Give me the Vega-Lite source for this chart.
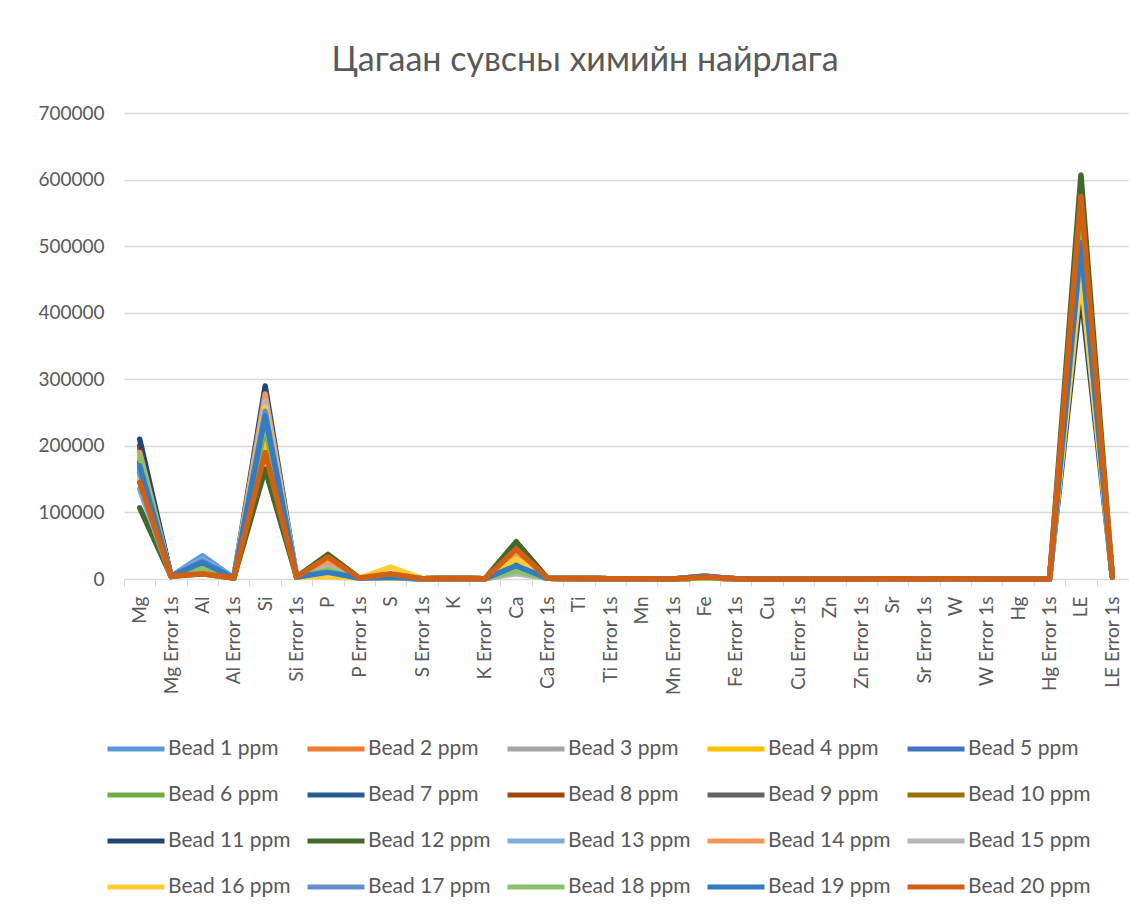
{
"$schema": "https://vega.github.io/schema/vega-lite/v6.json",
"width": 1004, "height": 466,
"autosize": {"type": "none"},
"padding": {"left": 124, "top": 113, "right": 16, "bottom": 331},
"background": "white",
"title": {"text": "Цагаан сувсны химийн найрлага", "font": "Lato", "fontSize": 34, "fontWeight": "normal", "color": "#595959", "anchor": "middle", "offset": 26, "dx": -41},
"config": {"view": {"stroke": null}, "font": "Lato"},
"data": {"values": [
{"s":"Bead 1 ppm","c":"Mg","v":165000},{"s":"Bead 1 ppm","c":"Mg Error 1s","v":4000},{"s":"Bead 1 ppm","c":"Al","v":35000},{"s":"Bead 1 ppm","c":"Al Error 1s","v":1500},{"s":"Bead 1 ppm","c":"Si","v":240000},{"s":"Bead 1 ppm","c":"Si Error 1s","v":3000},{"s":"Bead 1 ppm","c":"P","v":12000},{"s":"Bead 1 ppm","c":"P Error 1s","v":1500},{"s":"Bead 1 ppm","c":"S","v":3000},{"s":"Bead 1 ppm","c":"S Error 1s","v":500},{"s":"Bead 1 ppm","c":"K","v":800},{"s":"Bead 1 ppm","c":"K Error 1s","v":300},{"s":"Bead 1 ppm","c":"Ca","v":22000},{"s":"Bead 1 ppm","c":"Ca Error 1s","v":1000},{"s":"Bead 1 ppm","c":"Ti","v":600},{"s":"Bead 1 ppm","c":"Ti Error 1s","v":200},{"s":"Bead 1 ppm","c":"Mn","v":400},{"s":"Bead 1 ppm","c":"Mn Error 1s","v":150},{"s":"Bead 1 ppm","c":"Fe","v":3000},{"s":"Bead 1 ppm","c":"Fe Error 1s","v":200},{"s":"Bead 1 ppm","c":"Cu","v":150},{"s":"Bead 1 ppm","c":"Cu Error 1s","v":50},{"s":"Bead 1 ppm","c":"Zn","v":100},{"s":"Bead 1 ppm","c":"Zn Error 1s","v":40},{"s":"Bead 1 ppm","c":"Sr","v":200},{"s":"Bead 1 ppm","c":"Sr Error 1s","v":40},{"s":"Bead 1 ppm","c":"W","v":300},{"s":"Bead 1 ppm","c":"W Error 1s","v":150},{"s":"Bead 1 ppm","c":"Hg","v":100},{"s":"Bead 1 ppm","c":"Hg Error 1s","v":50},{"s":"Bead 1 ppm","c":"LE","v":520000},{"s":"Bead 1 ppm","c":"LE Error 1s","v":3000},
{"s":"Bead 2 ppm","c":"Mg","v":195000},{"s":"Bead 2 ppm","c":"Mg Error 1s","v":4000},{"s":"Bead 2 ppm","c":"Al","v":10000},{"s":"Bead 2 ppm","c":"Al Error 1s","v":1500},{"s":"Bead 2 ppm","c":"Si","v":270000},{"s":"Bead 2 ppm","c":"Si Error 1s","v":3000},{"s":"Bead 2 ppm","c":"P","v":28000},{"s":"Bead 2 ppm","c":"P Error 1s","v":1500},{"s":"Bead 2 ppm","c":"S","v":5000},{"s":"Bead 2 ppm","c":"S Error 1s","v":500},{"s":"Bead 2 ppm","c":"K","v":800},{"s":"Bead 2 ppm","c":"K Error 1s","v":300},{"s":"Bead 2 ppm","c":"Ca","v":40000},{"s":"Bead 2 ppm","c":"Ca Error 1s","v":1000},{"s":"Bead 2 ppm","c":"Ti","v":600},{"s":"Bead 2 ppm","c":"Ti Error 1s","v":200},{"s":"Bead 2 ppm","c":"Mn","v":400},{"s":"Bead 2 ppm","c":"Mn Error 1s","v":150},{"s":"Bead 2 ppm","c":"Fe","v":2000},{"s":"Bead 2 ppm","c":"Fe Error 1s","v":200},{"s":"Bead 2 ppm","c":"Cu","v":150},{"s":"Bead 2 ppm","c":"Cu Error 1s","v":50},{"s":"Bead 2 ppm","c":"Zn","v":100},{"s":"Bead 2 ppm","c":"Zn Error 1s","v":40},{"s":"Bead 2 ppm","c":"Sr","v":200},{"s":"Bead 2 ppm","c":"Sr Error 1s","v":40},{"s":"Bead 2 ppm","c":"W","v":300},{"s":"Bead 2 ppm","c":"W Error 1s","v":150},{"s":"Bead 2 ppm","c":"Hg","v":100},{"s":"Bead 2 ppm","c":"Hg Error 1s","v":50},{"s":"Bead 2 ppm","c":"LE","v":490000},{"s":"Bead 2 ppm","c":"LE Error 1s","v":3000},
{"s":"Bead 3 ppm","c":"Mg","v":160000},{"s":"Bead 3 ppm","c":"Mg Error 1s","v":4000},{"s":"Bead 3 ppm","c":"Al","v":12000},{"s":"Bead 3 ppm","c":"Al Error 1s","v":1500},{"s":"Bead 3 ppm","c":"Si","v":265000},{"s":"Bead 3 ppm","c":"Si Error 1s","v":3000},{"s":"Bead 3 ppm","c":"P","v":20000},{"s":"Bead 3 ppm","c":"P Error 1s","v":1500},{"s":"Bead 3 ppm","c":"S","v":2000},{"s":"Bead 3 ppm","c":"S Error 1s","v":500},{"s":"Bead 3 ppm","c":"K","v":800},{"s":"Bead 3 ppm","c":"K Error 1s","v":300},{"s":"Bead 3 ppm","c":"Ca","v":10000},{"s":"Bead 3 ppm","c":"Ca Error 1s","v":1000},{"s":"Bead 3 ppm","c":"Ti","v":600},{"s":"Bead 3 ppm","c":"Ti Error 1s","v":200},{"s":"Bead 3 ppm","c":"Mn","v":400},{"s":"Bead 3 ppm","c":"Mn Error 1s","v":150},{"s":"Bead 3 ppm","c":"Fe","v":2000},{"s":"Bead 3 ppm","c":"Fe Error 1s","v":200},{"s":"Bead 3 ppm","c":"Cu","v":150},{"s":"Bead 3 ppm","c":"Cu Error 1s","v":50},{"s":"Bead 3 ppm","c":"Zn","v":100},{"s":"Bead 3 ppm","c":"Zn Error 1s","v":40},{"s":"Bead 3 ppm","c":"Sr","v":200},{"s":"Bead 3 ppm","c":"Sr Error 1s","v":40},{"s":"Bead 3 ppm","c":"W","v":300},{"s":"Bead 3 ppm","c":"W Error 1s","v":150},{"s":"Bead 3 ppm","c":"Hg","v":100},{"s":"Bead 3 ppm","c":"Hg Error 1s","v":50},{"s":"Bead 3 ppm","c":"LE","v":500000},{"s":"Bead 3 ppm","c":"LE Error 1s","v":3000},
{"s":"Bead 4 ppm","c":"Mg","v":180000},{"s":"Bead 4 ppm","c":"Mg Error 1s","v":4000},{"s":"Bead 4 ppm","c":"Al","v":15000},{"s":"Bead 4 ppm","c":"Al Error 1s","v":1500},{"s":"Bead 4 ppm","c":"Si","v":215000},{"s":"Bead 4 ppm","c":"Si Error 1s","v":3000},{"s":"Bead 4 ppm","c":"P","v":25000},{"s":"Bead 4 ppm","c":"P Error 1s","v":1500},{"s":"Bead 4 ppm","c":"S","v":6000},{"s":"Bead 4 ppm","c":"S Error 1s","v":500},{"s":"Bead 4 ppm","c":"K","v":800},{"s":"Bead 4 ppm","c":"K Error 1s","v":300},{"s":"Bead 4 ppm","c":"Ca","v":28000},{"s":"Bead 4 ppm","c":"Ca Error 1s","v":1000},{"s":"Bead 4 ppm","c":"Ti","v":600},{"s":"Bead 4 ppm","c":"Ti Error 1s","v":200},{"s":"Bead 4 ppm","c":"Mn","v":400},{"s":"Bead 4 ppm","c":"Mn Error 1s","v":150},{"s":"Bead 4 ppm","c":"Fe","v":2000},{"s":"Bead 4 ppm","c":"Fe Error 1s","v":200},{"s":"Bead 4 ppm","c":"Cu","v":150},{"s":"Bead 4 ppm","c":"Cu Error 1s","v":50},{"s":"Bead 4 ppm","c":"Zn","v":100},{"s":"Bead 4 ppm","c":"Zn Error 1s","v":40},{"s":"Bead 4 ppm","c":"Sr","v":200},{"s":"Bead 4 ppm","c":"Sr Error 1s","v":40},{"s":"Bead 4 ppm","c":"W","v":300},{"s":"Bead 4 ppm","c":"W Error 1s","v":150},{"s":"Bead 4 ppm","c":"Hg","v":100},{"s":"Bead 4 ppm","c":"Hg Error 1s","v":50},{"s":"Bead 4 ppm","c":"LE","v":460000},{"s":"Bead 4 ppm","c":"LE Error 1s","v":3000},
{"s":"Bead 5 ppm","c":"Mg","v":170000},{"s":"Bead 5 ppm","c":"Mg Error 1s","v":4000},{"s":"Bead 5 ppm","c":"Al","v":20000},{"s":"Bead 5 ppm","c":"Al Error 1s","v":1500},{"s":"Bead 5 ppm","c":"Si","v":235000},{"s":"Bead 5 ppm","c":"Si Error 1s","v":3000},{"s":"Bead 5 ppm","c":"P","v":10000},{"s":"Bead 5 ppm","c":"P Error 1s","v":1500},{"s":"Bead 5 ppm","c":"S","v":3000},{"s":"Bead 5 ppm","c":"S Error 1s","v":500},{"s":"Bead 5 ppm","c":"K","v":800},{"s":"Bead 5 ppm","c":"K Error 1s","v":300},{"s":"Bead 5 ppm","c":"Ca","v":18000},{"s":"Bead 5 ppm","c":"Ca Error 1s","v":1000},{"s":"Bead 5 ppm","c":"Ti","v":600},{"s":"Bead 5 ppm","c":"Ti Error 1s","v":200},{"s":"Bead 5 ppm","c":"Mn","v":400},{"s":"Bead 5 ppm","c":"Mn Error 1s","v":150},{"s":"Bead 5 ppm","c":"Fe","v":4500},{"s":"Bead 5 ppm","c":"Fe Error 1s","v":200},{"s":"Bead 5 ppm","c":"Cu","v":150},{"s":"Bead 5 ppm","c":"Cu Error 1s","v":50},{"s":"Bead 5 ppm","c":"Zn","v":100},{"s":"Bead 5 ppm","c":"Zn Error 1s","v":40},{"s":"Bead 5 ppm","c":"Sr","v":200},{"s":"Bead 5 ppm","c":"Sr Error 1s","v":40},{"s":"Bead 5 ppm","c":"W","v":300},{"s":"Bead 5 ppm","c":"W Error 1s","v":150},{"s":"Bead 5 ppm","c":"Hg","v":100},{"s":"Bead 5 ppm","c":"Hg Error 1s","v":50},{"s":"Bead 5 ppm","c":"LE","v":510000},{"s":"Bead 5 ppm","c":"LE Error 1s","v":3000},
{"s":"Bead 6 ppm","c":"Mg","v":175000},{"s":"Bead 6 ppm","c":"Mg Error 1s","v":4000},{"s":"Bead 6 ppm","c":"Al","v":14000},{"s":"Bead 6 ppm","c":"Al Error 1s","v":1500},{"s":"Bead 6 ppm","c":"Si","v":230000},{"s":"Bead 6 ppm","c":"Si Error 1s","v":3000},{"s":"Bead 6 ppm","c":"P","v":15000},{"s":"Bead 6 ppm","c":"P Error 1s","v":1500},{"s":"Bead 6 ppm","c":"S","v":2000},{"s":"Bead 6 ppm","c":"S Error 1s","v":500},{"s":"Bead 6 ppm","c":"K","v":800},{"s":"Bead 6 ppm","c":"K Error 1s","v":300},{"s":"Bead 6 ppm","c":"Ca","v":12000},{"s":"Bead 6 ppm","c":"Ca Error 1s","v":1000},{"s":"Bead 6 ppm","c":"Ti","v":600},{"s":"Bead 6 ppm","c":"Ti Error 1s","v":200},{"s":"Bead 6 ppm","c":"Mn","v":400},{"s":"Bead 6 ppm","c":"Mn Error 1s","v":150},{"s":"Bead 6 ppm","c":"Fe","v":2000},{"s":"Bead 6 ppm","c":"Fe Error 1s","v":200},{"s":"Bead 6 ppm","c":"Cu","v":150},{"s":"Bead 6 ppm","c":"Cu Error 1s","v":50},{"s":"Bead 6 ppm","c":"Zn","v":100},{"s":"Bead 6 ppm","c":"Zn Error 1s","v":40},{"s":"Bead 6 ppm","c":"Sr","v":200},{"s":"Bead 6 ppm","c":"Sr Error 1s","v":40},{"s":"Bead 6 ppm","c":"W","v":300},{"s":"Bead 6 ppm","c":"W Error 1s","v":150},{"s":"Bead 6 ppm","c":"Hg","v":100},{"s":"Bead 6 ppm","c":"Hg Error 1s","v":50},{"s":"Bead 6 ppm","c":"LE","v":530000},{"s":"Bead 6 ppm","c":"LE Error 1s","v":3000},
{"s":"Bead 7 ppm","c":"Mg","v":200000},{"s":"Bead 7 ppm","c":"Mg Error 1s","v":4000},{"s":"Bead 7 ppm","c":"Al","v":22000},{"s":"Bead 7 ppm","c":"Al Error 1s","v":1500},{"s":"Bead 7 ppm","c":"Si","v":250000},{"s":"Bead 7 ppm","c":"Si Error 1s","v":3000},{"s":"Bead 7 ppm","c":"P","v":14000},{"s":"Bead 7 ppm","c":"P Error 1s","v":1500},{"s":"Bead 7 ppm","c":"S","v":3000},{"s":"Bead 7 ppm","c":"S Error 1s","v":500},{"s":"Bead 7 ppm","c":"K","v":800},{"s":"Bead 7 ppm","c":"K Error 1s","v":300},{"s":"Bead 7 ppm","c":"Ca","v":20000},{"s":"Bead 7 ppm","c":"Ca Error 1s","v":1000},{"s":"Bead 7 ppm","c":"Ti","v":600},{"s":"Bead 7 ppm","c":"Ti Error 1s","v":200},{"s":"Bead 7 ppm","c":"Mn","v":400},{"s":"Bead 7 ppm","c":"Mn Error 1s","v":150},{"s":"Bead 7 ppm","c":"Fe","v":2500},{"s":"Bead 7 ppm","c":"Fe Error 1s","v":200},{"s":"Bead 7 ppm","c":"Cu","v":150},{"s":"Bead 7 ppm","c":"Cu Error 1s","v":50},{"s":"Bead 7 ppm","c":"Zn","v":100},{"s":"Bead 7 ppm","c":"Zn Error 1s","v":40},{"s":"Bead 7 ppm","c":"Sr","v":200},{"s":"Bead 7 ppm","c":"Sr Error 1s","v":40},{"s":"Bead 7 ppm","c":"W","v":300},{"s":"Bead 7 ppm","c":"W Error 1s","v":150},{"s":"Bead 7 ppm","c":"Hg","v":100},{"s":"Bead 7 ppm","c":"Hg Error 1s","v":50},{"s":"Bead 7 ppm","c":"LE","v":480000},{"s":"Bead 7 ppm","c":"LE Error 1s","v":3000},
{"s":"Bead 8 ppm","c":"Mg","v":200000},{"s":"Bead 8 ppm","c":"Mg Error 1s","v":4000},{"s":"Bead 8 ppm","c":"Al","v":8000},{"s":"Bead 8 ppm","c":"Al Error 1s","v":1500},{"s":"Bead 8 ppm","c":"Si","v":260000},{"s":"Bead 8 ppm","c":"Si Error 1s","v":3000},{"s":"Bead 8 ppm","c":"P","v":22000},{"s":"Bead 8 ppm","c":"P Error 1s","v":1500},{"s":"Bead 8 ppm","c":"S","v":6000},{"s":"Bead 8 ppm","c":"S Error 1s","v":500},{"s":"Bead 8 ppm","c":"K","v":800},{"s":"Bead 8 ppm","c":"K Error 1s","v":300},{"s":"Bead 8 ppm","c":"Ca","v":35000},{"s":"Bead 8 ppm","c":"Ca Error 1s","v":1000},{"s":"Bead 8 ppm","c":"Ti","v":600},{"s":"Bead 8 ppm","c":"Ti Error 1s","v":200},{"s":"Bead 8 ppm","c":"Mn","v":400},{"s":"Bead 8 ppm","c":"Mn Error 1s","v":150},{"s":"Bead 8 ppm","c":"Fe","v":2000},{"s":"Bead 8 ppm","c":"Fe Error 1s","v":200},{"s":"Bead 8 ppm","c":"Cu","v":150},{"s":"Bead 8 ppm","c":"Cu Error 1s","v":50},{"s":"Bead 8 ppm","c":"Zn","v":100},{"s":"Bead 8 ppm","c":"Zn Error 1s","v":40},{"s":"Bead 8 ppm","c":"Sr","v":200},{"s":"Bead 8 ppm","c":"Sr Error 1s","v":40},{"s":"Bead 8 ppm","c":"W","v":300},{"s":"Bead 8 ppm","c":"W Error 1s","v":150},{"s":"Bead 8 ppm","c":"Hg","v":100},{"s":"Bead 8 ppm","c":"Hg Error 1s","v":50},{"s":"Bead 8 ppm","c":"LE","v":500000},{"s":"Bead 8 ppm","c":"LE Error 1s","v":3000},
{"s":"Bead 9 ppm","c":"Mg","v":160000},{"s":"Bead 9 ppm","c":"Mg Error 1s","v":4000},{"s":"Bead 9 ppm","c":"Al","v":12000},{"s":"Bead 9 ppm","c":"Al Error 1s","v":1500},{"s":"Bead 9 ppm","c":"Si","v":255000},{"s":"Bead 9 ppm","c":"Si Error 1s","v":3000},{"s":"Bead 9 ppm","c":"P","v":18000},{"s":"Bead 9 ppm","c":"P Error 1s","v":1500},{"s":"Bead 9 ppm","c":"S","v":3000},{"s":"Bead 9 ppm","c":"S Error 1s","v":500},{"s":"Bead 9 ppm","c":"K","v":800},{"s":"Bead 9 ppm","c":"K Error 1s","v":300},{"s":"Bead 9 ppm","c":"Ca","v":15000},{"s":"Bead 9 ppm","c":"Ca Error 1s","v":1000},{"s":"Bead 9 ppm","c":"Ti","v":600},{"s":"Bead 9 ppm","c":"Ti Error 1s","v":200},{"s":"Bead 9 ppm","c":"Mn","v":400},{"s":"Bead 9 ppm","c":"Mn Error 1s","v":150},{"s":"Bead 9 ppm","c":"Fe","v":2000},{"s":"Bead 9 ppm","c":"Fe Error 1s","v":200},{"s":"Bead 9 ppm","c":"Cu","v":150},{"s":"Bead 9 ppm","c":"Cu Error 1s","v":50},{"s":"Bead 9 ppm","c":"Zn","v":100},{"s":"Bead 9 ppm","c":"Zn Error 1s","v":40},{"s":"Bead 9 ppm","c":"Sr","v":200},{"s":"Bead 9 ppm","c":"Sr Error 1s","v":40},{"s":"Bead 9 ppm","c":"W","v":300},{"s":"Bead 9 ppm","c":"W Error 1s","v":150},{"s":"Bead 9 ppm","c":"Hg","v":100},{"s":"Bead 9 ppm","c":"Hg Error 1s","v":50},{"s":"Bead 9 ppm","c":"LE","v":520000},{"s":"Bead 9 ppm","c":"LE Error 1s","v":3000},
{"s":"Bead 10 ppm","c":"Mg","v":175000},{"s":"Bead 10 ppm","c":"Mg Error 1s","v":4000},{"s":"Bead 10 ppm","c":"Al","v":10000},{"s":"Bead 10 ppm","c":"Al Error 1s","v":1500},{"s":"Bead 10 ppm","c":"Si","v":240000},{"s":"Bead 10 ppm","c":"Si Error 1s","v":3000},{"s":"Bead 10 ppm","c":"P","v":20000},{"s":"Bead 10 ppm","c":"P Error 1s","v":1500},{"s":"Bead 10 ppm","c":"S","v":5000},{"s":"Bead 10 ppm","c":"S Error 1s","v":500},{"s":"Bead 10 ppm","c":"K","v":800},{"s":"Bead 10 ppm","c":"K Error 1s","v":300},{"s":"Bead 10 ppm","c":"Ca","v":25000},{"s":"Bead 10 ppm","c":"Ca Error 1s","v":1000},{"s":"Bead 10 ppm","c":"Ti","v":600},{"s":"Bead 10 ppm","c":"Ti Error 1s","v":200},{"s":"Bead 10 ppm","c":"Mn","v":400},{"s":"Bead 10 ppm","c":"Mn Error 1s","v":150},{"s":"Bead 10 ppm","c":"Fe","v":2000},{"s":"Bead 10 ppm","c":"Fe Error 1s","v":200},{"s":"Bead 10 ppm","c":"Cu","v":150},{"s":"Bead 10 ppm","c":"Cu Error 1s","v":50},{"s":"Bead 10 ppm","c":"Zn","v":100},{"s":"Bead 10 ppm","c":"Zn Error 1s","v":40},{"s":"Bead 10 ppm","c":"Sr","v":200},{"s":"Bead 10 ppm","c":"Sr Error 1s","v":40},{"s":"Bead 10 ppm","c":"W","v":300},{"s":"Bead 10 ppm","c":"W Error 1s","v":150},{"s":"Bead 10 ppm","c":"Hg","v":100},{"s":"Bead 10 ppm","c":"Hg Error 1s","v":50},{"s":"Bead 10 ppm","c":"LE","v":510000},{"s":"Bead 10 ppm","c":"LE Error 1s","v":3000},
{"s":"Bead 11 ppm","c":"Mg","v":210000},{"s":"Bead 11 ppm","c":"Mg Error 1s","v":4000},{"s":"Bead 11 ppm","c":"Al","v":18000},{"s":"Bead 11 ppm","c":"Al Error 1s","v":1500},{"s":"Bead 11 ppm","c":"Si","v":290000},{"s":"Bead 11 ppm","c":"Si Error 1s","v":3000},{"s":"Bead 11 ppm","c":"P","v":16000},{"s":"Bead 11 ppm","c":"P Error 1s","v":1500},{"s":"Bead 11 ppm","c":"S","v":3000},{"s":"Bead 11 ppm","c":"S Error 1s","v":500},{"s":"Bead 11 ppm","c":"K","v":800},{"s":"Bead 11 ppm","c":"K Error 1s","v":300},{"s":"Bead 11 ppm","c":"Ca","v":20000},{"s":"Bead 11 ppm","c":"Ca Error 1s","v":1000},{"s":"Bead 11 ppm","c":"Ti","v":600},{"s":"Bead 11 ppm","c":"Ti Error 1s","v":200},{"s":"Bead 11 ppm","c":"Mn","v":400},{"s":"Bead 11 ppm","c":"Mn Error 1s","v":150},{"s":"Bead 11 ppm","c":"Fe","v":2500},{"s":"Bead 11 ppm","c":"Fe Error 1s","v":200},{"s":"Bead 11 ppm","c":"Cu","v":150},{"s":"Bead 11 ppm","c":"Cu Error 1s","v":50},{"s":"Bead 11 ppm","c":"Zn","v":100},{"s":"Bead 11 ppm","c":"Zn Error 1s","v":40},{"s":"Bead 11 ppm","c":"Sr","v":200},{"s":"Bead 11 ppm","c":"Sr Error 1s","v":40},{"s":"Bead 11 ppm","c":"W","v":300},{"s":"Bead 11 ppm","c":"W Error 1s","v":150},{"s":"Bead 11 ppm","c":"Hg","v":100},{"s":"Bead 11 ppm","c":"Hg Error 1s","v":50},{"s":"Bead 11 ppm","c":"LE","v":430000},{"s":"Bead 11 ppm","c":"LE Error 1s","v":3000},
{"s":"Bead 12 ppm","c":"Mg","v":107000},{"s":"Bead 12 ppm","c":"Mg Error 1s","v":4000},{"s":"Bead 12 ppm","c":"Al","v":12000},{"s":"Bead 12 ppm","c":"Al Error 1s","v":1500},{"s":"Bead 12 ppm","c":"Si","v":165000},{"s":"Bead 12 ppm","c":"Si Error 1s","v":3000},{"s":"Bead 12 ppm","c":"P","v":37000},{"s":"Bead 12 ppm","c":"P Error 1s","v":1500},{"s":"Bead 12 ppm","c":"S","v":4000},{"s":"Bead 12 ppm","c":"S Error 1s","v":500},{"s":"Bead 12 ppm","c":"K","v":800},{"s":"Bead 12 ppm","c":"K Error 1s","v":300},{"s":"Bead 12 ppm","c":"Ca","v":56000},{"s":"Bead 12 ppm","c":"Ca Error 1s","v":1000},{"s":"Bead 12 ppm","c":"Ti","v":600},{"s":"Bead 12 ppm","c":"Ti Error 1s","v":200},{"s":"Bead 12 ppm","c":"Mn","v":400},{"s":"Bead 12 ppm","c":"Mn Error 1s","v":150},{"s":"Bead 12 ppm","c":"Fe","v":2000},{"s":"Bead 12 ppm","c":"Fe Error 1s","v":200},{"s":"Bead 12 ppm","c":"Cu","v":150},{"s":"Bead 12 ppm","c":"Cu Error 1s","v":50},{"s":"Bead 12 ppm","c":"Zn","v":100},{"s":"Bead 12 ppm","c":"Zn Error 1s","v":40},{"s":"Bead 12 ppm","c":"Sr","v":200},{"s":"Bead 12 ppm","c":"Sr Error 1s","v":40},{"s":"Bead 12 ppm","c":"W","v":300},{"s":"Bead 12 ppm","c":"W Error 1s","v":150},{"s":"Bead 12 ppm","c":"Hg","v":100},{"s":"Bead 12 ppm","c":"Hg Error 1s","v":50},{"s":"Bead 12 ppm","c":"LE","v":607000},{"s":"Bead 12 ppm","c":"LE Error 1s","v":3000},
{"s":"Bead 13 ppm","c":"Mg","v":135000},{"s":"Bead 13 ppm","c":"Mg Error 1s","v":4000},{"s":"Bead 13 ppm","c":"Al","v":30000},{"s":"Bead 13 ppm","c":"Al Error 1s","v":1500},{"s":"Bead 13 ppm","c":"Si","v":245000},{"s":"Bead 13 ppm","c":"Si Error 1s","v":3000},{"s":"Bead 13 ppm","c":"P","v":8000},{"s":"Bead 13 ppm","c":"P Error 1s","v":1500},{"s":"Bead 13 ppm","c":"S","v":2000},{"s":"Bead 13 ppm","c":"S Error 1s","v":500},{"s":"Bead 13 ppm","c":"K","v":800},{"s":"Bead 13 ppm","c":"K Error 1s","v":300},{"s":"Bead 13 ppm","c":"Ca","v":15000},{"s":"Bead 13 ppm","c":"Ca Error 1s","v":1000},{"s":"Bead 13 ppm","c":"Ti","v":600},{"s":"Bead 13 ppm","c":"Ti Error 1s","v":200},{"s":"Bead 13 ppm","c":"Mn","v":400},{"s":"Bead 13 ppm","c":"Mn Error 1s","v":150},{"s":"Bead 13 ppm","c":"Fe","v":3000},{"s":"Bead 13 ppm","c":"Fe Error 1s","v":200},{"s":"Bead 13 ppm","c":"Cu","v":150},{"s":"Bead 13 ppm","c":"Cu Error 1s","v":50},{"s":"Bead 13 ppm","c":"Zn","v":100},{"s":"Bead 13 ppm","c":"Zn Error 1s","v":40},{"s":"Bead 13 ppm","c":"Sr","v":200},{"s":"Bead 13 ppm","c":"Sr Error 1s","v":40},{"s":"Bead 13 ppm","c":"W","v":300},{"s":"Bead 13 ppm","c":"W Error 1s","v":150},{"s":"Bead 13 ppm","c":"Hg","v":100},{"s":"Bead 13 ppm","c":"Hg Error 1s","v":50},{"s":"Bead 13 ppm","c":"LE","v":540000},{"s":"Bead 13 ppm","c":"LE Error 1s","v":3000},
{"s":"Bead 14 ppm","c":"Mg","v":190000},{"s":"Bead 14 ppm","c":"Mg Error 1s","v":4000},{"s":"Bead 14 ppm","c":"Al","v":10000},{"s":"Bead 14 ppm","c":"Al Error 1s","v":1500},{"s":"Bead 14 ppm","c":"Si","v":278000},{"s":"Bead 14 ppm","c":"Si Error 1s","v":3000},{"s":"Bead 14 ppm","c":"P","v":26000},{"s":"Bead 14 ppm","c":"P Error 1s","v":1500},{"s":"Bead 14 ppm","c":"S","v":5000},{"s":"Bead 14 ppm","c":"S Error 1s","v":500},{"s":"Bead 14 ppm","c":"K","v":800},{"s":"Bead 14 ppm","c":"K Error 1s","v":300},{"s":"Bead 14 ppm","c":"Ca","v":38000},{"s":"Bead 14 ppm","c":"Ca Error 1s","v":1000},{"s":"Bead 14 ppm","c":"Ti","v":600},{"s":"Bead 14 ppm","c":"Ti Error 1s","v":200},{"s":"Bead 14 ppm","c":"Mn","v":400},{"s":"Bead 14 ppm","c":"Mn Error 1s","v":150},{"s":"Bead 14 ppm","c":"Fe","v":2000},{"s":"Bead 14 ppm","c":"Fe Error 1s","v":200},{"s":"Bead 14 ppm","c":"Cu","v":150},{"s":"Bead 14 ppm","c":"Cu Error 1s","v":50},{"s":"Bead 14 ppm","c":"Zn","v":100},{"s":"Bead 14 ppm","c":"Zn Error 1s","v":40},{"s":"Bead 14 ppm","c":"Sr","v":200},{"s":"Bead 14 ppm","c":"Sr Error 1s","v":40},{"s":"Bead 14 ppm","c":"W","v":300},{"s":"Bead 14 ppm","c":"W Error 1s","v":150},{"s":"Bead 14 ppm","c":"Hg","v":100},{"s":"Bead 14 ppm","c":"Hg Error 1s","v":50},{"s":"Bead 14 ppm","c":"LE","v":480000},{"s":"Bead 14 ppm","c":"LE Error 1s","v":3000},
{"s":"Bead 15 ppm","c":"Mg","v":155000},{"s":"Bead 15 ppm","c":"Mg Error 1s","v":4000},{"s":"Bead 15 ppm","c":"Al","v":12000},{"s":"Bead 15 ppm","c":"Al Error 1s","v":1500},{"s":"Bead 15 ppm","c":"Si","v":268000},{"s":"Bead 15 ppm","c":"Si Error 1s","v":3000},{"s":"Bead 15 ppm","c":"P","v":17000},{"s":"Bead 15 ppm","c":"P Error 1s","v":1500},{"s":"Bead 15 ppm","c":"S","v":2000},{"s":"Bead 15 ppm","c":"S Error 1s","v":500},{"s":"Bead 15 ppm","c":"K","v":800},{"s":"Bead 15 ppm","c":"K Error 1s","v":300},{"s":"Bead 15 ppm","c":"Ca","v":8000},{"s":"Bead 15 ppm","c":"Ca Error 1s","v":1000},{"s":"Bead 15 ppm","c":"Ti","v":600},{"s":"Bead 15 ppm","c":"Ti Error 1s","v":200},{"s":"Bead 15 ppm","c":"Mn","v":400},{"s":"Bead 15 ppm","c":"Mn Error 1s","v":150},{"s":"Bead 15 ppm","c":"Fe","v":2000},{"s":"Bead 15 ppm","c":"Fe Error 1s","v":200},{"s":"Bead 15 ppm","c":"Cu","v":150},{"s":"Bead 15 ppm","c":"Cu Error 1s","v":50},{"s":"Bead 15 ppm","c":"Zn","v":100},{"s":"Bead 15 ppm","c":"Zn Error 1s","v":40},{"s":"Bead 15 ppm","c":"Sr","v":200},{"s":"Bead 15 ppm","c":"Sr Error 1s","v":40},{"s":"Bead 15 ppm","c":"W","v":300},{"s":"Bead 15 ppm","c":"W Error 1s","v":150},{"s":"Bead 15 ppm","c":"Hg","v":100},{"s":"Bead 15 ppm","c":"Hg Error 1s","v":50},{"s":"Bead 15 ppm","c":"LE","v":520000},{"s":"Bead 15 ppm","c":"LE Error 1s","v":3000},
{"s":"Bead 16 ppm","c":"Mg","v":150000},{"s":"Bead 16 ppm","c":"Mg Error 1s","v":4000},{"s":"Bead 16 ppm","c":"Al","v":14000},{"s":"Bead 16 ppm","c":"Al Error 1s","v":1500},{"s":"Bead 16 ppm","c":"Si","v":258000},{"s":"Bead 16 ppm","c":"Si Error 1s","v":3000},{"s":"Bead 16 ppm","c":"P","v":3000},{"s":"Bead 16 ppm","c":"P Error 1s","v":1500},{"s":"Bead 16 ppm","c":"S","v":18000},{"s":"Bead 16 ppm","c":"S Error 1s","v":500},{"s":"Bead 16 ppm","c":"K","v":800},{"s":"Bead 16 ppm","c":"K Error 1s","v":300},{"s":"Bead 16 ppm","c":"Ca","v":30000},{"s":"Bead 16 ppm","c":"Ca Error 1s","v":1000},{"s":"Bead 16 ppm","c":"Ti","v":600},{"s":"Bead 16 ppm","c":"Ti Error 1s","v":200},{"s":"Bead 16 ppm","c":"Mn","v":400},{"s":"Bead 16 ppm","c":"Mn Error 1s","v":150},{"s":"Bead 16 ppm","c":"Fe","v":2000},{"s":"Bead 16 ppm","c":"Fe Error 1s","v":200},{"s":"Bead 16 ppm","c":"Cu","v":150},{"s":"Bead 16 ppm","c":"Cu Error 1s","v":50},{"s":"Bead 16 ppm","c":"Zn","v":100},{"s":"Bead 16 ppm","c":"Zn Error 1s","v":40},{"s":"Bead 16 ppm","c":"Sr","v":200},{"s":"Bead 16 ppm","c":"Sr Error 1s","v":40},{"s":"Bead 16 ppm","c":"W","v":300},{"s":"Bead 16 ppm","c":"W Error 1s","v":150},{"s":"Bead 16 ppm","c":"Hg","v":100},{"s":"Bead 16 ppm","c":"Hg Error 1s","v":50},{"s":"Bead 16 ppm","c":"LE","v":455000},{"s":"Bead 16 ppm","c":"LE Error 1s","v":3000},
{"s":"Bead 17 ppm","c":"Mg","v":160000},{"s":"Bead 17 ppm","c":"Mg Error 1s","v":4000},{"s":"Bead 17 ppm","c":"Al","v":27000},{"s":"Bead 17 ppm","c":"Al Error 1s","v":1500},{"s":"Bead 17 ppm","c":"Si","v":252000},{"s":"Bead 17 ppm","c":"Si Error 1s","v":3000},{"s":"Bead 17 ppm","c":"P","v":12000},{"s":"Bead 17 ppm","c":"P Error 1s","v":1500},{"s":"Bead 17 ppm","c":"S","v":3000},{"s":"Bead 17 ppm","c":"S Error 1s","v":500},{"s":"Bead 17 ppm","c":"K","v":800},{"s":"Bead 17 ppm","c":"K Error 1s","v":300},{"s":"Bead 17 ppm","c":"Ca","v":18000},{"s":"Bead 17 ppm","c":"Ca Error 1s","v":1000},{"s":"Bead 17 ppm","c":"Ti","v":600},{"s":"Bead 17 ppm","c":"Ti Error 1s","v":200},{"s":"Bead 17 ppm","c":"Mn","v":400},{"s":"Bead 17 ppm","c":"Mn Error 1s","v":150},{"s":"Bead 17 ppm","c":"Fe","v":4000},{"s":"Bead 17 ppm","c":"Fe Error 1s","v":200},{"s":"Bead 17 ppm","c":"Cu","v":150},{"s":"Bead 17 ppm","c":"Cu Error 1s","v":50},{"s":"Bead 17 ppm","c":"Zn","v":100},{"s":"Bead 17 ppm","c":"Zn Error 1s","v":40},{"s":"Bead 17 ppm","c":"Sr","v":200},{"s":"Bead 17 ppm","c":"Sr Error 1s","v":40},{"s":"Bead 17 ppm","c":"W","v":300},{"s":"Bead 17 ppm","c":"W Error 1s","v":150},{"s":"Bead 17 ppm","c":"Hg","v":100},{"s":"Bead 17 ppm","c":"Hg Error 1s","v":50},{"s":"Bead 17 ppm","c":"LE","v":500000},{"s":"Bead 17 ppm","c":"LE Error 1s","v":3000},
{"s":"Bead 18 ppm","c":"Mg","v":185000},{"s":"Bead 18 ppm","c":"Mg Error 1s","v":4000},{"s":"Bead 18 ppm","c":"Al","v":16000},{"s":"Bead 18 ppm","c":"Al Error 1s","v":1500},{"s":"Bead 18 ppm","c":"Si","v":238000},{"s":"Bead 18 ppm","c":"Si Error 1s","v":3000},{"s":"Bead 18 ppm","c":"P","v":14000},{"s":"Bead 18 ppm","c":"P Error 1s","v":1500},{"s":"Bead 18 ppm","c":"S","v":1500},{"s":"Bead 18 ppm","c":"S Error 1s","v":500},{"s":"Bead 18 ppm","c":"K","v":800},{"s":"Bead 18 ppm","c":"K Error 1s","v":300},{"s":"Bead 18 ppm","c":"Ca","v":12000},{"s":"Bead 18 ppm","c":"Ca Error 1s","v":1000},{"s":"Bead 18 ppm","c":"Ti","v":600},{"s":"Bead 18 ppm","c":"Ti Error 1s","v":200},{"s":"Bead 18 ppm","c":"Mn","v":400},{"s":"Bead 18 ppm","c":"Mn Error 1s","v":150},{"s":"Bead 18 ppm","c":"Fe","v":2000},{"s":"Bead 18 ppm","c":"Fe Error 1s","v":200},{"s":"Bead 18 ppm","c":"Cu","v":150},{"s":"Bead 18 ppm","c":"Cu Error 1s","v":50},{"s":"Bead 18 ppm","c":"Zn","v":100},{"s":"Bead 18 ppm","c":"Zn Error 1s","v":40},{"s":"Bead 18 ppm","c":"Sr","v":200},{"s":"Bead 18 ppm","c":"Sr Error 1s","v":40},{"s":"Bead 18 ppm","c":"W","v":300},{"s":"Bead 18 ppm","c":"W Error 1s","v":150},{"s":"Bead 18 ppm","c":"Hg","v":100},{"s":"Bead 18 ppm","c":"Hg Error 1s","v":50},{"s":"Bead 18 ppm","c":"LE","v":530000},{"s":"Bead 18 ppm","c":"LE Error 1s","v":3000},
{"s":"Bead 19 ppm","c":"Mg","v":170000},{"s":"Bead 19 ppm","c":"Mg Error 1s","v":4000},{"s":"Bead 19 ppm","c":"Al","v":25000},{"s":"Bead 19 ppm","c":"Al Error 1s","v":1500},{"s":"Bead 19 ppm","c":"Si","v":245000},{"s":"Bead 19 ppm","c":"Si Error 1s","v":3000},{"s":"Bead 19 ppm","c":"P","v":10000},{"s":"Bead 19 ppm","c":"P Error 1s","v":1500},{"s":"Bead 19 ppm","c":"S","v":3000},{"s":"Bead 19 ppm","c":"S Error 1s","v":500},{"s":"Bead 19 ppm","c":"K","v":800},{"s":"Bead 19 ppm","c":"K Error 1s","v":300},{"s":"Bead 19 ppm","c":"Ca","v":20000},{"s":"Bead 19 ppm","c":"Ca Error 1s","v":1000},{"s":"Bead 19 ppm","c":"Ti","v":600},{"s":"Bead 19 ppm","c":"Ti Error 1s","v":200},{"s":"Bead 19 ppm","c":"Mn","v":400},{"s":"Bead 19 ppm","c":"Mn Error 1s","v":150},{"s":"Bead 19 ppm","c":"Fe","v":4000},{"s":"Bead 19 ppm","c":"Fe Error 1s","v":200},{"s":"Bead 19 ppm","c":"Cu","v":150},{"s":"Bead 19 ppm","c":"Cu Error 1s","v":50},{"s":"Bead 19 ppm","c":"Zn","v":100},{"s":"Bead 19 ppm","c":"Zn Error 1s","v":40},{"s":"Bead 19 ppm","c":"Sr","v":200},{"s":"Bead 19 ppm","c":"Sr Error 1s","v":40},{"s":"Bead 19 ppm","c":"W","v":300},{"s":"Bead 19 ppm","c":"W Error 1s","v":150},{"s":"Bead 19 ppm","c":"Hg","v":100},{"s":"Bead 19 ppm","c":"Hg Error 1s","v":50},{"s":"Bead 19 ppm","c":"LE","v":505000},{"s":"Bead 19 ppm","c":"LE Error 1s","v":3000},
{"s":"Bead 20 ppm","c":"Mg","v":145000},{"s":"Bead 20 ppm","c":"Mg Error 1s","v":4000},{"s":"Bead 20 ppm","c":"Al","v":8000},{"s":"Bead 20 ppm","c":"Al Error 1s","v":1500},{"s":"Bead 20 ppm","c":"Si","v":190000},{"s":"Bead 20 ppm","c":"Si Error 1s","v":3000},{"s":"Bead 20 ppm","c":"P","v":33000},{"s":"Bead 20 ppm","c":"P Error 1s","v":1500},{"s":"Bead 20 ppm","c":"S","v":8000},{"s":"Bead 20 ppm","c":"S Error 1s","v":500},{"s":"Bead 20 ppm","c":"K","v":800},{"s":"Bead 20 ppm","c":"K Error 1s","v":300},{"s":"Bead 20 ppm","c":"Ca","v":45000},{"s":"Bead 20 ppm","c":"Ca Error 1s","v":1000},{"s":"Bead 20 ppm","c":"Ti","v":600},{"s":"Bead 20 ppm","c":"Ti Error 1s","v":200},{"s":"Bead 20 ppm","c":"Mn","v":400},{"s":"Bead 20 ppm","c":"Mn Error 1s","v":150},{"s":"Bead 20 ppm","c":"Fe","v":3000},{"s":"Bead 20 ppm","c":"Fe Error 1s","v":200},{"s":"Bead 20 ppm","c":"Cu","v":150},{"s":"Bead 20 ppm","c":"Cu Error 1s","v":50},{"s":"Bead 20 ppm","c":"Zn","v":100},{"s":"Bead 20 ppm","c":"Zn Error 1s","v":40},{"s":"Bead 20 ppm","c":"Sr","v":200},{"s":"Bead 20 ppm","c":"Sr Error 1s","v":40},{"s":"Bead 20 ppm","c":"W","v":300},{"s":"Bead 20 ppm","c":"W Error 1s","v":150},{"s":"Bead 20 ppm","c":"Hg","v":100},{"s":"Bead 20 ppm","c":"Hg Error 1s","v":50},{"s":"Bead 20 ppm","c":"LE","v":575000},{"s":"Bead 20 ppm","c":"LE Error 1s","v":3000}
]},
"mark": {"type": "line", "strokeWidth": 5.5, "strokeCap": "round", "strokeJoin": "round"},
"encoding": {
  "x": {"field": "c", "type": "nominal", "title": null,
    "scale": {"type": "point", "padding": 0.5, "domain": ["Mg","Mg Error 1s","Al","Al Error 1s","Si","Si Error 1s","P","P Error 1s","S","S Error 1s","K","K Error 1s","Ca","Ca Error 1s","Ti","Ti Error 1s","Mn","Mn Error 1s","Fe","Fe Error 1s","Cu","Cu Error 1s","Zn","Zn Error 1s","Sr","Sr Error 1s","W","W Error 1s","Hg","Hg Error 1s","LE","LE Error 1s"]},
    "axis": {"labelAngle": -90, "labelFontSize": 19, "labelFont": "Lato", "labelColor": "#595959", "labelPadding": 10, "domainColor": "#D9D9D9", "tickColor": "#D9D9D9", "tickSize": 7, "tickOffset": -15.7, "labelOffset": 15.7, "grid": false, "labelBaseline": "middle", "labelAlign": "right"}},
  "y": {"field": "v", "type": "quantitative", "title": null,
    "scale": {"domain": [0, 700000], "nice": false},
    "axis": {"values": [0,100000,200000,300000,400000,500000,600000,700000], "format": "d", "labelFontSize": 19, "labelFont": "Lato", "labelColor": "#595959", "labelPadding": 20, "domain": false, "ticks": false, "gridColor": "#D9D9D9", "gridWidth": 1.3}},
  "color": {"field": "s", "type": "nominal",
    "scale": {"domain": ["Bead 1 ppm","Bead 2 ppm","Bead 3 ppm","Bead 4 ppm","Bead 5 ppm","Bead 6 ppm","Bead 7 ppm","Bead 8 ppm","Bead 9 ppm","Bead 10 ppm","Bead 11 ppm","Bead 12 ppm","Bead 13 ppm","Bead 14 ppm","Bead 15 ppm","Bead 16 ppm","Bead 17 ppm","Bead 18 ppm","Bead 19 ppm","Bead 20 ppm"],
      "range": ["#5B9BD5","#ED7D31","#A5A5A5","#FFC000","#4472C4","#70AD47","#255E91","#9E480E","#636363","#997300","#264478","#43682B","#7CAFDD","#F1975A","#B7B7B7","#FFCD33","#698ED0","#8CC168","#327DC2","#D26012"]},
    "legend": {"title": null, "orient": "none", "legendX": -19, "legendY": 605, "columns": 5, "direction": "horizontal", "gridAlign": "all", "symbolType": "stroke", "symbolSize": 3249, "symbolStrokeWidth": 5, "labelFontSize": 21, "labelFont": "Lato", "labelColor": "#595959", "labelOffset": 1, "columnPadding": 6, "rowPadding": 5, "labelLimit": 300}}
}
}
